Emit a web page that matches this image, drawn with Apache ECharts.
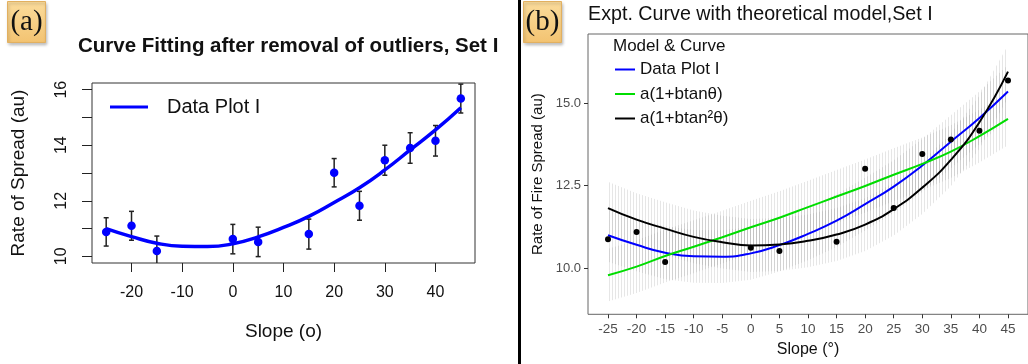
<!DOCTYPE html>
<html>
<head>
<meta charset="utf-8">
<script src="https://cdn.jsdelivr.net/npm/echarts@6/dist/echarts.min.js"></script>
<style>
  html, body { margin: 0; padding: 0; background: #fff; }
  #main { width: 1028px; height: 364px; }
</style>
</head>
<body>
<div id="main"></div>
<script>
// observed points (same set in both panels)
var slopeObs = [-25, -20, -15, 0, 5, 15, 20, 25, 30, 35, 40, 45];
var rosObs = [10.88, 11.10, 10.19, 10.62, 10.52, 10.80, 13.01, 11.82, 13.46, 13.90, 14.16, 15.68];
var errObs = [0.51, 0.52, 0.54, 0.53, 0.53, 0.54, 0.51, 0.52, 0.54, 0.55, 0.55, 0.52];

// fitted curves, read every 5 degrees
var slopeFit = [-25, -20, -15, -10, -5, 0, 5, 10, 15, 20, 25, 30, 35, 40, 45];
var fitDataPlot = [11.00, 10.71, 10.47, 10.36, 10.35, 10.45, 10.70, 11.04, 11.44, 11.94, 12.47, 13.11, 13.83, 14.55, 15.35];
var fitTan = [9.79, 10.05, 10.37, 10.65, 10.94, 11.24, 11.53, 11.85, 12.17, 12.49, 12.83, 13.16, 13.53, 14.00, 14.52];
var fitTan2 = [11.82, 11.47, 11.20, 10.95, 10.79, 10.69, 10.72, 10.83, 11.02, 11.32, 11.79, 12.44, 13.28, 14.42, 15.95];
// half width of the grey ribbon round each curve
var bandHalf = [0.8, 0.8, 0.8, 0.8, 0.8, 0.8, 0.8, 0.8, 0.8, 0.8, 0.8, 0.8, 0.8, 0.8, 0.8];

// tick labels
var xTicksA = [-20, -10, 0, 10, 20, 30, 40];
var yTicksA = [10, 11, 12, 13, 14, 15, 16];
var yLabelsA = [10, 12, 14, 16];
var xTicksB = [-25, -20, -15, -10, -5, 0, 5, 10, 15, 20, 25, 30, 35, 40, 45];
var yTicksB = [10, 12.5, 15];

var FONT = '"Liberation Sans", Arial, sans-serif';

function pairs(xs, ys) {
    return xs.map(function (x, i) { return [x, ys[i]]; });
}

// vertical hatch used for the confidence ribbons
var hatch = document.createElement('canvas');
hatch.width = 3;
hatch.height = 4;
var hc = hatch.getContext('2d');
hc.fillStyle = 'rgba(140,140,140,0.22)';
hc.fillRect(0, 0, 1, 4);

// one polygon per ribbon, built from all rows of the series
function renderBand(params, api) {
    if (params.dataIndexInside !== 0) return;
    var n = params.dataInsideLength;
    var up = [], lo = [];
    for (var i = 0; i < n; i++) {
        var x = api.value(0, i);
        up.push(api.coord([x, api.value(2, i)]));
        lo.unshift(api.coord([x, api.value(1, i)]));
    }
    return {
        type: 'polygon',
        shape: {points: up.concat(lo)},
        style: {fill: {image: hatch, repeat: 'repeat'}}
    };
}

function ribbon(id, curve) {
    var rows = slopeFit.map(function (x, i) {
        return [x, curve[i] - bandHalf[i], curve[i] + bandHalf[i]];
    });
    return {
        name: id, type: 'custom', xAxisIndex: 1, yAxisIndex: 1, clip: true,
        silent: true, renderItem: renderBand, data: rows, z: 1
    };
}

function renderErrBar(params, api) {
    var x = api.value(0);
    var top = api.coord([x, api.value(2)]);
    var bot = api.coord([x, api.value(1)]);
    var cap = 2.5;
    var st = {stroke: '#222', lineWidth: 1.5};
    return {
        type: 'group',
        children: [
            {type: 'line', shape: {x1: top[0], y1: top[1], x2: bot[0], y2: bot[1]}, style: st},
            {type: 'line', shape: {x1: top[0] - cap, y1: top[1], x2: top[0] + cap, y2: top[1]}, style: st},
            {type: 'line', shape: {x1: bot[0] - cap, y1: bot[1], x2: bot[0] + cap, y2: bot[1]}, style: st}
        ]
    };
}

var errData = slopeObs.map(function (x, i) {
    return [x, rosObs[i] - errObs[i], rosObs[i] + errObs[i]];
});

var labelFill = new echarts.graphic.LinearGradient(0, 0, 0, 1, [
    {offset: 0, color: '#fbdc9c'},
    {offset: 1, color: '#f3c371'}
]);

function tagBox(x, txt) {
    return {
        type: 'group', left: x, top: 1,
        children: [
            {
                type: 'rect', shape: {x: 0, y: 0, width: 38, height: 41},
                style: {fill: labelFill, stroke: '#e2b060', lineWidth: 1,
                    shadowBlur: 3, shadowOffsetX: 1, shadowOffsetY: 2, shadowColor: 'rgba(0,0,0,0.25)'}
            },
            {
                type: 'text', x: 19, y: 21,
                style: {text: txt, font: '29px "Liberation Serif", "Times New Roman", serif',
                    fill: '#111', align: 'center', verticalAlign: 'middle'}
            }
        ]
    };
}

var chart = echarts.init(document.getElementById('main'));

chart.setOption({
    animation: false,
    backgroundColor: '#fff',
    title: [
        {
            text: 'Curve Fitting after removal of outliers, Set I',
            left: 78, top: 36, padding: 0,
            textStyle: {fontFamily: FONT, fontSize: 20.5, fontWeight: 'bold', color: '#111'}
        },
        {
            text: 'Expt. Curve with theoretical model,Set I',
            left: 588, top: 5, padding: 0,
            textStyle: {fontFamily: FONT, fontSize: 19.7, fontWeight: 'normal', color: '#111'}
        }
    ],
    legend: [
        {
            data: ['Data Plot I'],
            left: 110, top: 97, padding: 0,
            icon: 'rect', itemWidth: 38, itemHeight: 3,
            textStyle: {fontFamily: FONT, fontSize: 20, color: '#111', padding: [0, 0, 0, 14]}
        },
        {
            data: [
                {name: 'Data Plot I'},
                {name: 'a(1+btanθ)'},
                {name: 'a(1+btan²θ)'}
            ],
            orient: 'vertical',
            left: 615, top: 61, padding: 0,
            icon: 'rect', itemWidth: 20, itemHeight: 2, itemGap: 7.5,
            textStyle: {fontFamily: FONT, fontSize: 17, color: '#111'}
        }
    ],
    grid: [
        {left: 92, top: 83, right: 553, bottom: 101, show: true, borderColor: '#333', borderWidth: 1},
        {left: 588, top: 34, right: -7.3, bottom: 49.7, show: true, borderColor: '#666', borderWidth: 1}
    ],
    xAxis: [
        {
            gridIndex: 0, type: 'value', min: -27.8, max: 47.8,
            name: 'Slope (o)', nameLocation: 'middle', nameGap: 59,
            nameTextStyle: {fontFamily: FONT, fontSize: 19, color: '#111'},
            axisLine: {show: false, onZero: false},
            axisTick: {show: true, length: 9, customValues: xTicksA, lineStyle: {color: '#222'}},
            axisLabel: {customValues: xTicksA, margin: 22, fontFamily: FONT, fontSize: 16, color: '#111'},
            splitLine: {show: false}
        },
        {
            gridIndex: 1, type: 'value', min: -28.5, max: 48.5,
            name: 'Slope (°)', nameLocation: 'middle', nameGap: 26,
            nameTextStyle: {fontFamily: FONT, fontSize: 16, color: '#111'},
            axisLine: {show: false, onZero: false},
            axisTick: {show: true, length: 4, customValues: xTicksB, lineStyle: {color: '#333'}},
            axisLabel: {customValues: xTicksB, margin: 8, fontFamily: FONT, fontSize: 13.5, color: '#4d4d4d'},
            splitLine: {show: false}
        }
    ],
    yAxis: [
        {
            gridIndex: 0, type: 'value', min: 9.76, max: 16.24,
            name: 'Rate of Spread (au)', nameLocation: 'middle', nameGap: 64,
            nameTextStyle: {fontFamily: FONT, fontSize: 19, color: '#111'},
            axisLine: {show: false, onZero: false},
            axisTick: {show: true, length: 10, customValues: yTicksA, lineStyle: {color: '#222'}},
            axisLabel: {customValues: yLabelsA, rotate: 90, margin: 22, fontFamily: FONT, fontSize: 16, color: '#111'},
            splitLine: {show: false}
        },
        {
            gridIndex: 1, type: 'value', min: 8.606, max: 17.09,
            name: 'Rate of Fire Spread (au)', nameLocation: 'middle', nameGap: 43,
            nameTextStyle: {fontFamily: FONT, fontSize: 15, color: '#111'},
            axisLine: {show: false, onZero: false},
            axisTick: {show: true, length: 4, customValues: yTicksB, lineStyle: {color: '#333'}},
            axisLabel: {
                customValues: yTicksB, margin: 7, fontFamily: FONT, fontSize: 13, color: '#4d4d4d',
                formatter: function (v) { return v.toFixed(1); }
            },
            splitLine: {show: false}
        }
    ],
    series: [
        // panel (a)
        {
            name: 'errA', type: 'custom', xAxisIndex: 0, yAxisIndex: 0, clip: true,
            renderItem: renderErrBar, data: errData, silent: true, z: 2
        },
        {
            name: 'obsA', type: 'scatter', xAxisIndex: 0, yAxisIndex: 0,
            symbolSize: 8.5, itemStyle: {color: '#0000ff', opacity: 1},
            data: pairs(slopeObs, rosObs), z: 3
        },
        {
            name: 'Data Plot I', type: 'line', xAxisIndex: 0, yAxisIndex: 0,
            smooth: true, symbol: 'none', color: '#0000ff',
            lineStyle: {width: 3.5, color: '#0000ff'},
            data: pairs(slopeFit, fitDataPlot), z: 4
        },
        // panel (b)
        ribbon('bandBlue', fitDataPlot),
        ribbon('bandGreen', fitTan),
        ribbon('bandBlack', fitTan2),
        {
            name: 'Data Plot I', type: 'line', xAxisIndex: 1, yAxisIndex: 1,
            smooth: true, symbol: 'none', color: '#0000ff',
            lineStyle: {width: 2, color: '#0000ff'},
            data: pairs(slopeFit, fitDataPlot), z: 4
        },
        {
            name: 'a(1+btanθ)', type: 'line', xAxisIndex: 1, yAxisIndex: 1,
            smooth: true, symbol: 'none', color: '#00dd00',
            lineStyle: {width: 2, color: '#00dd00'},
            data: pairs(slopeFit, fitTan), z: 4
        },
        {
            name: 'a(1+btan²θ)', type: 'line', xAxisIndex: 1, yAxisIndex: 1,
            smooth: true, symbol: 'none', color: '#000',
            lineStyle: {width: 2, color: '#000'},
            data: pairs(slopeFit, fitTan2), z: 4
        },
        {
            name: 'obsB', type: 'scatter', xAxisIndex: 1, yAxisIndex: 1,
            symbolSize: 6, itemStyle: {color: '#000', opacity: 1},
            data: pairs(slopeObs, rosObs), z: 5
        }
    ],
    graphic: [
        {type: 'rect', left: 518, top: 0, shape: {width: 3, height: 364}, style: {fill: '#000'}, z: 10},
        tagBox(7, '(a)'),
        tagBox(523, '(b)'),
        {
            type: 'text', left: 613, top: 38,
            style: {text: 'Model & Curve', font: '17px ' + FONT, fill: '#111'}
        }
    ]
});

window.onresize = function () {
    chart.resize();
};
</script>
</body>
</html>
